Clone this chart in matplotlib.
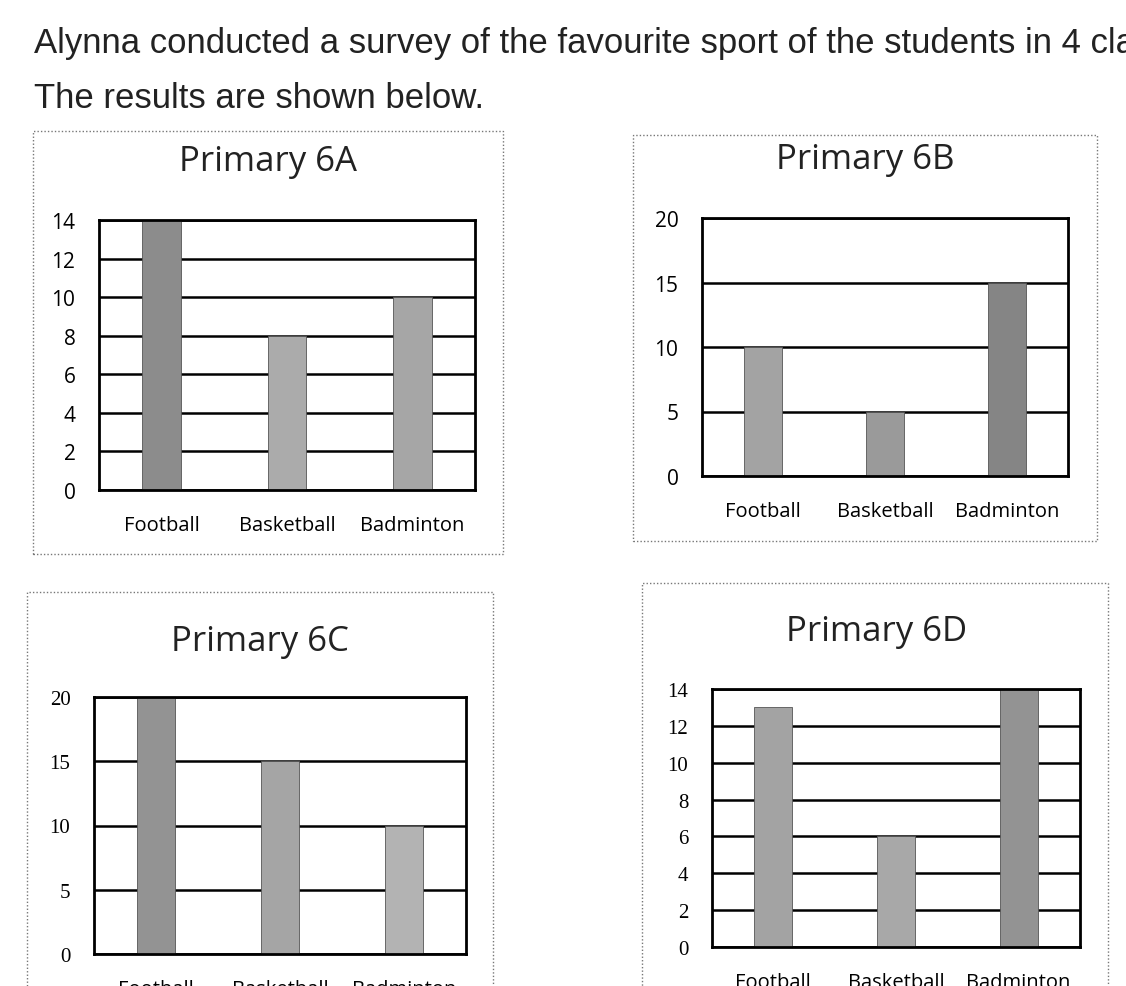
import matplotlib
matplotlib.use("Agg")
import matplotlib.pyplot as plt
from matplotlib.patches import Rectangle

W, H = 1126, 987

sports = ["Football", "Basketball", "Badminton"]
titles = ["Primary 6A", "Primary 6B", "Primary 6C", "Primary 6D"]
values_6a = [14, 8, 10]
values_6b = [10, 5, 15]
values_6c = [20, 15, 10]
values_6d = [13, 6, 14]
ticks_6a = [0, 2, 4, 6, 8, 10, 12, 14]
ticks_6b = [0, 5, 10, 15, 20]
ticks_6c = [0, 5, 10, 15, 20]
ticks_6d = [0, 2, 4, 6, 8, 10, 12, 14]

fig = plt.figure(figsize=(W / 100, H / 100), dpi=100)
fig.patch.set_facecolor("white")

# heading (runs off the right edge like the scan)
fig.text(34 / W, 1 - 43 / H, "Alynna conducted a survey of the favourite sport of the students in 4 classes.",
         fontsize=25, family="Liberation Sans", color="#222222", va="center")
fig.text(34 / W, 1 - 98 / H, "The results are shown below.",
         fontsize=25, family="Liberation Sans", color="#222222", va="center")


def px_axes(l, t, r, b):
    return fig.add_axes([l / W, 1 - b / H, (r - l) / W, (b - t) / H])


def box(l, t, r, b):
    fig.patches.append(Rectangle((l / W, 1 - b / H), (r - l) / W, (b - t) / H,
                                 transform=fig.transFigure, fill=False,
                                 edgecolor="#777777", linestyle=(0, (1, 1.5)), lw=1))


def chart(plot_px, box_px, title_xy, title, vals, ticks, colors, tickfont):
    box(*box_px)
    ax = px_axes(*plot_px)
    ax.bar(range(3), vals, width=0.31, color=colors, edgecolor="#555555",
           linewidth=0.6, zorder=3)
    ax.set_xlim(-0.5, 2.5)
    ax.set_ylim(0, ticks[-1])
    ax.set_yticks(ticks)
    ax.set_xticks(range(3))
    ax.set_xticklabels(sports, family="Open Sans", fontsize=14.5)
    for lab in ax.get_yticklabels():
        lab.set_family(tickfont)
        lab.set_fontsize(15)
    ax.tick_params(length=0, axis="y", pad=17)
    ax.tick_params(length=0, axis="x", pad=18)
    ax.grid(axis="y", color="black", lw=1.8, zorder=1)
    for s in ax.spines.values():
        s.set_linewidth(2)
        s.set_zorder(4)
    fig.text(title_xy[0] / W, 1 - title_xy[1] / H, title, family="Open Sans",
             fontsize=25, ha="center", va="center", color="#222222")


chart((99, 221, 475, 491), (33, 132, 503, 555), (268, 162), titles[0],
      values_6a, ticks_6a, ["#8c8c8c", "#ababab", "#a6a6a6"], "Open Sans")
chart((702, 219, 1068, 477), (633, 136, 1097, 542), (865, 160), titles[1],
      values_6b, ticks_6b, ["#a3a3a3", "#9a9a9a", "#858585"], "Open Sans")
chart((94, 698, 466, 955), (27, 593, 493, 1000), (260, 642), titles[2],
      values_6c, ticks_6c, ["#939393", "#a5a5a5", "#b3b3b3"], "Liberation Serif")
chart((712, 690, 1080, 948), (642, 584, 1108, 1000), (877, 632), titles[3],
      values_6d, ticks_6d, ["#a3a3a3", "#a8a8a8", "#939393"], "Liberation Serif")

fig.savefig("out.png", dpi=100)
